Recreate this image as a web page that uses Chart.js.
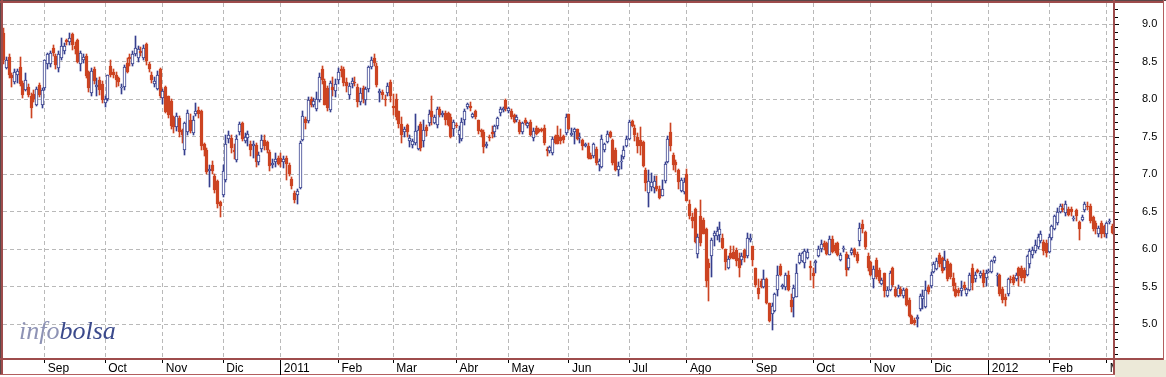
<!DOCTYPE html>
<html><head><meta charset="utf-8">
<script src="https://cdn.jsdelivr.net/npm/chart.js@4.4.1/dist/chart.umd.min.js"></script>
<style>html,body{margin:0;padding:0;background:#fff;overflow:hidden}canvas{display:block}</style>
</head><body>
<canvas id="c" width="1166" height="377"></canvas>
<script>
// Month labels and the trading-day index at which each month starts
const monthLabels = ['Sep','Oct','Nov','Dic','2011','Feb','Mar','Abr','May','Jun','Jul','Ago','Sep','Oct','Nov','Dic','2012','Feb','Mar'];
const monthStart  = [15,37,58,80,101,122,142,165,184,206,228,249,273,295,316,338,359,381,402];
const yearLabels  = ['2011','2012'];
const priceTicks  = [5.0,5.5,6.0,6.5,7.0,7.5,8.0,8.5,9.0];

const open = [
8.88,8.42,8.56,8.33,8.23,8.33,8.43,8.22,8.13,8.17,
8.04,8.07,7.93,8.19,7.93,8.15,8.47,8.47,8.69,8.58,
8.42,8.55,8.64,8.79,8.76,8.87,8.71,8.79,8.47,8.53,
8.58,8.37,8.08,8.40,8.16,8.26,8.20,7.95,8.00,8.44,
8.37,8.33,8.28,8.15,8.16,8.49,8.56,8.47,8.61,8.55,
8.64,8.55,8.74,8.47,8.33,8.20,8.14,8.40,8.02,8.17,
8.04,7.98,7.76,7.63,7.75,7.59,7.32,7.57,7.73,7.55,
7.81,7.86,7.84,7.40,7.33,7.05,7.12,6.98,6.91,6.63,
6.72,6.93,7.47,7.48,7.32,7.19,7.57,7.68,7.45,7.49,
7.41,7.38,7.39,7.16,7.34,7.46,7.43,7.30,7.12,7.17,
7.22,7.22,7.16,7.22,7.12,6.94,6.75,6.73,6.82,7.46,
7.74,7.71,8.00,7.93,7.87,7.99,8.40,8.25,8.15,7.86,
8.16,8.11,8.26,8.40,8.40,8.23,8.06,8.20,8.23,8.17,
7.97,8.15,7.99,8.14,8.43,8.55,8.45,8.09,8.10,8.00,
8.09,8.23,7.91,8.00,7.84,7.67,7.57,7.66,7.44,7.39,
7.42,7.34,7.67,7.44,7.63,7.68,7.84,7.69,7.66,7.87,
7.79,7.82,7.82,7.77,7.60,7.66,7.53,7.47,7.73,7.90,
7.91,7.76,7.84,7.73,7.59,7.57,7.38,7.50,7.57,7.57,
7.64,7.82,7.86,7.99,7.84,7.85,7.79,7.72,7.70,7.56,
7.73,7.64,7.70,7.48,7.62,7.60,7.60,7.62,7.34,7.31,
7.28,7.51,7.52,7.50,7.51,7.55,7.80,7.53,7.56,7.60,
7.48,7.46,7.38,7.38,7.26,7.24,7.34,7.13,7.10,7.32,
7.43,7.56,7.46,7.33,7.06,7.16,7.23,7.38,7.47,7.71,
7.62,7.50,7.46,7.43,7.06,6.75,6.83,6.82,6.84,6.80,
6.71,6.91,7.16,7.56,7.26,7.16,7.06,6.78,6.76,7.01,
6.61,6.43,6.54,5.94,6.44,6.39,6.27,5.82,5.91,6.18,
6.18,6.19,6.15,6.00,5.75,5.95,5.97,5.99,5.89,5.86,
5.99,5.91,6.13,6.04,5.75,5.49,5.58,5.50,5.60,5.28,
5.14,5.18,5.46,5.78,5.50,5.50,5.66,5.32,5.35,5.37,
5.82,5.84,5.82,5.89,5.78,5.68,5.82,5.91,6.00,6.09,
6.09,5.93,6.14,6.06,6.09,5.86,6.00,5.94,5.75,5.95,
6.00,5.94,6.11,6.34,6.23,5.91,5.83,5.60,5.86,5.73,
5.54,5.68,5.38,5.46,5.75,5.47,5.38,5.47,5.38,5.47,
5.33,5.11,5.06,5.07,5.20,5.34,5.23,5.50,5.51,5.70,
5.74,5.92,5.89,5.75,5.84,5.80,5.62,5.47,5.46,5.44,
5.53,5.41,5.46,5.75,5.60,5.72,5.64,5.69,5.62,5.70,
5.70,5.85,5.65,5.66,5.47,5.37,5.40,5.61,5.63,5.60,
5.75,5.75,5.73,5.66,5.80,5.92,5.98,6.03,6.11,6.10,
6.09,5.97,6.15,6.27,6.35,6.50,6.55,6.48,6.54,6.54,
6.41,6.52,6.36,6.39,6.53,6.58,6.58,6.43,6.35,6.20,
6.35,6.31,6.20,6.36,6.31];

const high = [
8.95,8.56,8.60,8.35,8.40,8.40,8.57,8.25,8.35,8.20,
8.08,8.12,8.16,8.22,8.15,8.53,8.62,8.65,8.72,8.60,
8.65,8.82,8.75,8.81,8.88,8.88,8.76,8.80,8.65,8.60,
8.61,8.38,8.42,8.43,8.28,8.30,8.25,8.04,8.33,8.53,
8.40,8.36,8.30,8.20,8.46,8.55,8.60,8.64,8.85,8.71,
8.70,8.73,8.75,8.50,8.37,8.30,8.38,8.42,8.14,8.18,
8.05,8.00,7.78,7.82,7.78,7.61,7.70,7.86,7.80,7.78,
7.95,7.90,7.86,7.42,7.35,7.12,7.18,7.00,6.93,6.65,
7.12,7.52,7.58,7.52,7.40,7.52,7.70,7.70,7.55,7.58,
7.45,7.45,7.42,7.30,7.52,7.52,7.45,7.32,7.20,7.28,
7.25,7.28,7.25,7.24,7.15,6.97,6.78,6.80,7.44,7.85,
7.76,8.03,8.03,8.02,8.10,8.35,8.45,8.27,8.18,8.25,
8.30,8.27,8.42,8.44,8.43,8.28,8.22,8.28,8.30,8.20,
8.15,8.18,8.17,8.45,8.57,8.60,8.48,8.14,8.13,8.06,
8.22,8.26,8.07,8.07,7.84,7.76,7.63,7.67,7.53,7.47,
7.80,7.64,7.70,7.73,7.66,7.86,8.04,7.79,7.90,7.90,
7.85,7.85,7.83,7.81,7.72,7.68,7.64,7.75,7.87,7.95,
7.97,7.82,7.86,7.73,7.61,7.59,7.43,7.52,7.65,7.66,
7.77,7.90,7.90,8.01,7.90,7.87,7.81,7.79,7.72,7.70,
7.75,7.70,7.72,7.62,7.64,7.62,7.62,7.66,7.36,7.38,
7.50,7.53,7.64,7.60,7.53,7.80,7.81,7.62,7.62,7.61,
7.55,7.47,7.42,7.42,7.28,7.42,7.36,7.20,7.52,7.42,
7.58,7.58,7.47,7.35,7.16,7.26,7.38,7.51,7.73,7.72,
7.66,7.55,7.63,7.44,7.08,7.06,7.02,6.98,6.98,6.84,
6.93,7.17,7.51,7.68,7.28,7.19,7.07,6.95,6.95,7.07,
6.66,6.48,6.55,6.20,6.66,6.42,6.29,5.87,6.15,6.24,
6.30,6.36,6.20,6.01,5.91,6.04,6.04,6.02,5.95,5.95,
6.01,6.22,6.20,6.04,5.75,5.60,5.60,5.73,5.62,5.29,
5.28,5.42,5.78,5.80,5.54,5.69,5.71,5.40,5.53,5.80,
5.95,5.97,6.01,6.00,5.85,5.75,5.86,6.04,6.13,6.11,
6.10,6.18,6.18,6.08,6.10,5.95,6.04,5.96,5.93,6.02,
6.02,5.96,6.35,6.39,6.25,5.95,5.85,5.78,5.88,5.75,
5.62,5.69,5.50,5.71,5.77,5.50,5.53,5.50,5.48,5.49,
5.35,5.13,5.08,5.13,5.40,5.46,5.58,5.53,5.70,5.83,
5.88,5.95,5.90,5.98,5.87,5.82,5.68,5.55,5.48,5.58,
5.56,5.49,5.68,5.80,5.70,5.74,5.71,5.72,5.72,5.74,
5.86,5.91,5.69,5.67,5.50,5.40,5.62,5.65,5.66,5.68,
5.76,5.78,5.75,5.93,6.00,6.03,6.12,6.20,6.24,6.12,
6.12,6.20,6.33,6.46,6.55,6.60,6.60,6.64,6.57,6.56,
6.44,6.54,6.38,6.46,6.63,6.63,6.60,6.45,6.38,6.31,
6.38,6.33,6.37,6.41,6.34];

const low = [
8.47,8.40,8.28,8.17,8.20,8.22,8.18,8.02,8.11,8.03,
7.75,7.96,7.91,8.03,7.88,8.12,8.40,8.43,8.58,8.40,
8.37,8.52,8.60,8.72,8.73,8.66,8.60,8.48,8.38,8.48,
8.28,8.10,8.04,8.20,8.05,8.06,7.95,7.90,7.98,8.30,
8.28,8.17,8.18,8.07,8.13,8.35,8.45,8.44,8.58,8.50,
8.58,8.52,8.46,8.36,8.22,8.17,8.12,8.02,7.94,7.82,
7.75,7.60,7.55,7.58,7.50,7.42,7.26,7.53,7.55,7.52,
7.78,7.75,7.33,7.25,7.00,6.83,7.00,6.75,6.55,6.43,
6.70,6.90,7.42,7.28,7.20,7.16,7.52,7.45,7.42,7.38,
7.24,7.22,7.10,7.12,7.30,7.32,7.28,7.05,7.08,7.10,
7.12,7.10,7.08,6.93,6.98,6.80,6.62,6.60,6.80,7.44,
7.60,7.68,7.90,7.90,7.85,7.97,8.20,7.92,7.85,7.83,
8.05,8.03,8.20,8.30,8.18,8.10,8.00,8.15,8.18,7.90,
7.92,7.95,7.93,8.10,8.40,8.45,8.17,7.97,8.01,7.91,
8.04,7.97,7.79,7.73,7.62,7.42,7.50,7.50,7.37,7.35,
7.39,7.33,7.31,7.37,7.51,7.64,7.66,7.67,7.62,7.77,
7.77,7.66,7.64,7.48,7.51,7.62,7.42,7.44,7.66,7.87,
7.85,7.75,7.74,7.54,7.50,7.28,7.35,7.45,7.48,7.50,
7.60,7.78,7.83,7.84,7.82,7.74,7.68,7.70,7.54,7.54,
7.66,7.62,7.51,7.44,7.52,7.55,7.56,7.39,7.25,7.29,
7.26,7.40,7.40,7.40,7.42,7.53,7.59,7.51,7.40,7.46,
7.42,7.33,7.36,7.21,7.20,7.22,7.13,7.04,7.09,7.30,
7.42,7.48,7.13,7.04,6.98,7.07,7.20,7.36,7.46,7.63,
7.44,7.29,7.26,7.10,6.78,6.57,6.78,6.75,6.78,6.67,
6.71,6.89,7.15,7.31,7.06,7.03,6.81,6.76,6.74,6.64,
6.40,6.29,6.09,5.89,6.04,6.20,5.50,5.31,5.63,6.05,
6.12,6.10,6.00,5.72,5.74,5.87,5.87,5.78,5.63,5.79,
5.83,5.89,6.10,5.78,5.50,5.34,5.48,5.49,5.27,5.03,
4.93,5.16,5.38,5.65,5.47,5.46,5.44,5.17,5.10,5.36,
5.80,5.83,5.75,5.87,5.59,5.49,5.68,5.90,5.97,5.99,
5.92,5.92,5.95,5.95,5.91,5.84,5.97,5.64,5.73,5.93,
5.90,5.82,6.04,6.22,6.00,5.71,5.64,5.49,5.60,5.55,
5.52,5.37,5.36,5.45,5.50,5.36,5.36,5.38,5.35,5.24,
5.10,5.00,4.99,4.96,5.18,5.20,5.22,5.40,5.48,5.68,
5.72,5.76,5.68,5.73,5.58,5.60,5.44,5.36,5.38,5.38,
5.46,5.38,5.45,5.46,5.57,5.68,5.62,5.50,5.51,5.68,
5.68,5.82,5.51,5.38,5.28,5.25,5.38,5.55,5.53,5.58,
5.51,5.58,5.55,5.64,5.75,5.88,5.95,6.00,6.08,5.93,
5.90,5.95,6.13,6.26,6.33,6.48,6.50,6.45,6.44,6.45,
6.38,6.38,6.13,6.38,6.50,6.53,6.35,6.25,6.20,6.17,
6.15,6.17,6.15,6.34,6.20];

const close = [
8.52,8.53,8.33,8.29,8.37,8.38,8.20,8.06,8.26,8.06,
7.88,8.01,8.14,8.06,8.13,8.52,8.60,8.62,8.62,8.46,
8.61,8.71,8.71,8.77,8.82,8.72,8.67,8.50,8.62,8.56,
8.31,8.15,8.38,8.24,8.19,8.13,7.99,8.00,8.32,8.33,
8.33,8.26,8.23,8.17,8.43,8.37,8.54,8.61,8.68,8.67,
8.62,8.68,8.51,8.40,8.26,8.25,8.32,8.04,8.11,7.83,
7.79,7.65,7.63,7.78,7.57,7.52,7.68,7.82,7.58,7.73,
7.84,7.80,7.38,7.32,7.03,7.07,7.05,6.79,6.60,6.58,
7.04,7.41,7.52,7.35,7.30,7.47,7.67,7.47,7.50,7.54,
7.33,7.41,7.16,7.26,7.46,7.38,7.32,7.11,7.15,7.21,
7.14,7.17,7.21,7.14,7.01,6.84,6.66,6.78,7.42,7.78,
7.69,7.99,7.93,7.98,8.00,8.30,8.26,7.93,7.89,8.22,
8.13,8.20,8.37,8.38,8.22,8.18,8.18,8.24,8.22,7.97,
8.09,8.01,8.14,8.43,8.53,8.48,8.19,8.11,8.06,7.99,
8.18,8.04,7.89,7.77,7.67,7.53,7.60,7.57,7.48,7.45,
7.58,7.59,7.35,7.59,7.58,7.81,7.77,7.77,7.87,7.79,
7.82,7.73,7.66,7.50,7.70,7.64,7.59,7.70,7.84,7.94,
7.88,7.80,7.77,7.58,7.56,7.36,7.41,7.48,7.54,7.64,
7.75,7.87,7.88,7.87,7.88,7.77,7.70,7.77,7.56,7.68,
7.68,7.68,7.53,7.58,7.54,7.57,7.58,7.42,7.31,7.36,
7.47,7.42,7.41,7.44,7.46,7.77,7.61,7.55,7.60,7.47,
7.50,7.38,7.40,7.22,7.21,7.40,7.15,7.18,7.47,7.40,
7.54,7.50,7.15,7.06,7.11,7.18,7.33,7.47,7.70,7.64,
7.53,7.38,7.38,7.11,6.89,6.91,6.90,6.91,6.80,6.69,
6.81,7.14,7.47,7.38,7.13,7.12,6.90,6.93,6.90,6.64,
6.45,6.38,6.10,6.17,6.09,6.21,5.58,5.75,6.12,6.22,
6.24,6.27,6.02,5.83,5.87,5.89,5.87,5.84,5.75,5.91,
5.89,6.15,6.15,5.86,5.53,5.40,5.50,5.61,5.28,5.04,
5.25,5.40,5.66,5.66,5.53,5.66,5.46,5.23,5.49,5.68,
5.92,5.95,5.98,5.96,5.75,5.65,5.84,6.00,6.07,6.03,
5.94,6.14,5.96,5.98,5.93,5.93,6.01,5.73,5.89,5.99,
5.93,5.84,6.29,6.27,6.03,5.75,5.66,5.74,5.63,5.58,
5.59,5.44,5.46,5.68,5.52,5.38,5.49,5.41,5.46,5.26,
5.11,5.01,5.02,5.10,5.38,5.38,5.46,5.43,5.66,5.80,
5.85,5.80,5.71,5.86,5.60,5.63,5.51,5.38,5.42,5.49,
5.49,5.47,5.66,5.55,5.66,5.70,5.69,5.55,5.69,5.71,
5.84,5.90,5.66,5.40,5.33,5.33,5.61,5.59,5.55,5.66,
5.64,5.62,5.62,5.91,5.98,5.99,6.06,6.17,6.20,5.98,
5.95,6.17,6.31,6.44,6.50,6.58,6.52,6.61,6.46,6.50,
6.42,6.45,6.27,6.43,6.61,6.56,6.38,6.27,6.27,6.29,
6.20,6.20,6.35,6.38,6.22];

const RED = '#cc4422', BLUE = '#363f8e', FRAME = '#9e4c4c', GRID = '#b9b9b9';
const isUp = i => close[i] >= open[i];

const wicks = open.map((o, i) => ({x: i, y: [Math.min(low[i], o, close[i]), Math.max(high[i], o, close[i])]}));
const bodies = open.map((o, i) => ({x: i, y: [Math.min(o, close[i]), Math.max(o, close[i])]}));

const snap = {
  id: 'snap',
  afterDatasetsUpdate(chart) {
    chart.data.datasets.forEach((ds, di) => {
      chart.getDatasetMeta(di).data.forEach(el => {
        el.x = Math.floor(el.x) + 0.5;
        el.y = Math.round(el.y);
        el.base = Math.round(el.base);
      });
    });
  }
};

const frame = {
  id: 'frame',
  beforeDraw(chart) {
    const c = chart.ctx;
    c.save();
    c.fillStyle = '#ffffff'; c.fillRect(0, 0, 1166, 377);
    c.restore();
  },
  beforeDatasetsDraw(chart) {
    const c = chart.ctx;
    c.save();
    c.font = 'italic 26px "Liberation Serif", "Times New Roman", serif';
    c.textBaseline = 'alphabetic';
    c.fillStyle = '#8e93b5';
    c.fillText('info', 19, 339);
    const w = c.measureText('info').width;
    c.fillStyle = '#3b4a8c';
    c.fillText('bolsa', 19 + w, 339);
    c.restore();
  },
  afterDraw(chart) {
    const c = chart.ctx, a = chart.chartArea;
    const xs = chart.scales.x, ys = chart.scales.y;
    c.save();
    // beige corner
    c.fillStyle = '#ece9d8'; c.fillRect(a.right + 2, a.bottom + 2, 1166 - a.right - 2, 377 - a.bottom - 2);
    // outer frame
    c.fillStyle = '#5a4848'; c.fillRect(0, 0, 1166, 1); c.fillRect(0, 0, 1, 375);
    c.fillStyle = FRAME;
    c.fillRect(0, 1, 1164, 2);
    c.fillRect(1, 0, 2, 375);
    // plot right border and bottom axis line
    c.fillRect(a.right, 0, 2, 375);
    c.fillRect(0, a.bottom, 1164, 2);
    // right panel outer border + label band bottom
    c.fillStyle = '#b25e5e';
    c.fillRect(1163, 0, 1, a.bottom + 2);
    c.fillRect(0, 374, a.right + 2, 1);
    // y ticks (every 0.1)
    c.fillStyle = '#000';
    for (let k = 46; k <= 92; k++) {
      const v = k / 10;
      const y = Math.round(ys.getPixelForValue(v));
      const major = k % 5 === 0;
      c.fillRect(a.right + 2, y, major ? 4 : 3, 1);
    }
    // x month ticks
    monthStart.forEach((m, j) => {
      const x = Math.floor(xs.getPixelForValue(m));
      const isYear = yearLabels.includes(monthLabels[j]);
      c.fillRect(x, a.bottom + 2, 1, isYear ? 15 : 3);
    });
    c.restore();
  }
};

new Chart(document.getElementById('c'), {
  type: 'bar',
  data: {
    datasets: [
      { label: 'body', data: bodies, order: 1, grouped: false, barThickness: 3, minBarLength: 1,
        borderSkipped: false, borderWidth: 1,
        backgroundColor: ctx => isUp(ctx.dataIndex) ? '#ffffff' : RED,
        borderColor: ctx => isUp(ctx.dataIndex) ? BLUE : RED },
      { label: 'wick', data: wicks, order: 2, grouped: false, barThickness: 1, minBarLength: 1,
        borderSkipped: false, borderWidth: 0,
        backgroundColor: ctx => isUp(ctx.dataIndex) ? BLUE : RED }
    ]
  },
  options: {
    responsive: false, animation: false, devicePixelRatio: 1, events: [],
    layout: { padding: { left: 3, top: 3, right: 0, bottom: 0 } },
    plugins: { legend: { display: false }, tooltip: { enabled: false } },
    scales: {
      x: {
        type: 'linear', min: -0.255, max: -0.255 + 1110 / 2.744, offset: false,
        afterBuildTicks: s => { s.ticks = monthStart.map(v => ({ value: v })); },
        afterFit: s => { s.height = 19; s.paddingLeft = 0; s.paddingRight = 0; s.paddingTop = 0; s.paddingBottom = 0; },
        grid: { color: GRID, lineWidth: 1, drawTicks: false, offset: false },
        border: { display: false, dash: [4, 3] },
        ticks: { autoSkip: false, maxRotation: 0, minRotation: 0, align: 'start', labelOffset: 3, padding: 3,
          color: '#000', font: { family: '"Liberation Sans", Arial, sans-serif', size: 12 },
          callback: (v, i) => monthLabels[i] }
      },
      y: {
        type: 'linear', position: 'right', min: 4.551, max: 9.284,
        afterBuildTicks: s => { s.ticks = priceTicks.map(v => ({ value: v })); },
        afterFit: s => { s.width = 53; s.paddingTop = 0; s.paddingBottom = 0; s.paddingLeft = 0; s.paddingRight = 0; },
        grid: { color: GRID, lineWidth: 1, drawTicks: false },
        border: { display: false, dash: [4, 3] },
        ticks: { padding: 29, crossAlign: 'near', color: '#000',
          font: { family: '"Liberation Sans", Arial, sans-serif', size: 11 },
          callback: v => v.toFixed(1) }
      }
    }
  },
  plugins: [snap, frame]
});
</script>
</body></html>
